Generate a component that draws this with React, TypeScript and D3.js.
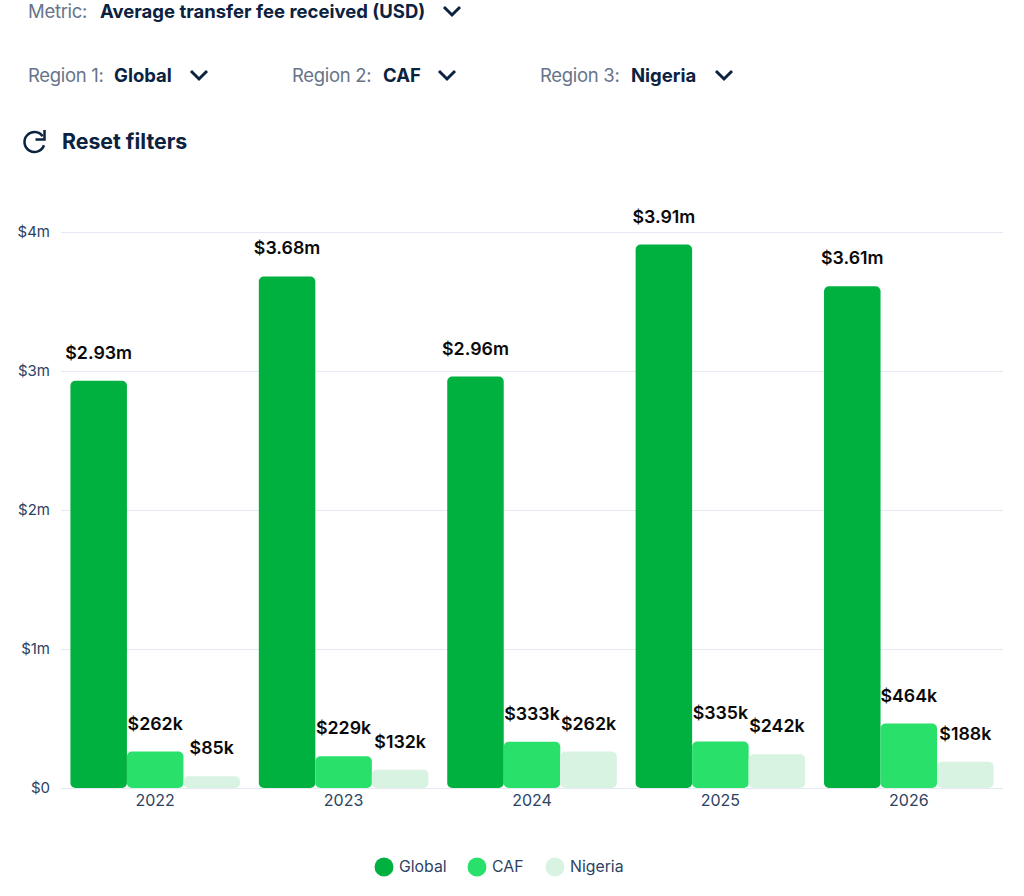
import React, { useEffect, useRef } from "react";
import * as d3 from "d3";

const years = ["2022", "2023", "2024", "2025", "2026"];
const regions = ["Global", "CAF", "Nigeria"];
const globalFees = [2930000, 3680000, 2960000, 3910000, 3610000];
const cafFees = [262000, 229000, 333000, 335000, 464000];
const nigeriaFees = [85000, 132000, 262000, 242000, 188000];
const yTicks = [0, 1000000, 2000000, 3000000, 4000000];
const regionColors = ["#00b140", "#29e06b", "#d8f3e2"];

const WIDTH = 1024;
const HEIGHT = 896;
const FONT = "Inter, sans-serif";
const NAVY = "#0b2240";
const GREY = "#66748a";

const fmtLabel = (v: number) =>
  v >= 1000000 ? `$${(v / 1000000).toFixed(2)}m` : `$${Math.round(v / 1000)}k`;

const chevron = (x: number, y: number) => `M${x},${y} l8,8 l8,-8`;

export default function App() {
  const ref = useRef<SVGSVGElement>(null);

  useEffect(() => {
    if (!ref.current) return;
    const svg = d3.select(ref.current);
    svg.selectAll("*").remove();

    // filters above the chart
    const filters = [
      { label: "Metric:", value: "Average transfer fee received (USD)", x: 28, vx: 100, cx: 444, y: 18 },
      { label: "Region 1:", value: "Global", x: 28, vx: 114, cx: 191, y: 82 },
      { label: "Region 2:", value: "CAF", x: 292, vx: 383, cx: 439, y: 82 },
      { label: "Region 3:", value: "Nigeria", x: 540, vx: 631, cx: 716, y: 82 },
    ];
    filters.forEach((f) => {
      svg.append("text").attr("x", f.x).attr("y", f.y).attr("fill", GREY)
        .attr("font-family", FONT).attr("font-size", 18.5).attr("letter-spacing", -0.3).text(f.label);
      svg.append("text").attr("x", f.vx).attr("y", f.y).attr("fill", NAVY)
        .attr("font-family", FONT).attr("font-size", 18.5).attr("font-weight", 700).text(f.value);
      svg.append("path").attr("d", chevron(f.cx, f.y - 11)).attr("fill", "none")
        .attr("stroke", NAVY).attr("stroke-width", 3);
    });

    // reset
    const arc = d3.arc()({ innerRadius: 10, outerRadius: 10, startAngle: 1.9, endAngle: 2 * Math.PI + 0.95 });
    svg.append("path").attr("d", arc).attr("transform", "translate(34.5,142)")
      .attr("fill", "none").attr("stroke", NAVY).attr("stroke-width", 2.5);
    svg.append("path").attr("d", "M44.5,130 v9.5 h-9").attr("fill", "none")
      .attr("stroke", NAVY).attr("stroke-width", 2.5);
    svg.append("text").attr("x", 62).attr("y", 149).attr("fill", NAVY)
      .attr("font-family", FONT).attr("font-size", 21.3).attr("font-weight", 700).text("Reset filters");

    // scales
    const x = d3.scaleBand().domain(years).range([61, 1003]).paddingInner(0.1).paddingOuter(0.05);
    const x1 = d3.scaleBand().domain(regions).range([0, x.bandwidth()]);
    const y = d3.scaleLinear().domain([0, 4000000]).range([788, 232]);

    // y axis + grid
    const yAxis = d3.axisLeft(y).tickValues(yTicks).tickSize(-942).tickPadding(11)
      .tickFormat((d) => (+d === 0 ? "$0" : `$${+d / 1000000}m`));
    const yG = svg.append("g").attr("transform", "translate(61,0)").call(yAxis as any);
    yG.select(".domain").remove();
    yG.selectAll("line").attr("stroke", "#e6e9f2").attr("stroke-width", 1.2);
    yG.selectAll("text").attr("fill", "#2c4262").attr("font-family", FONT).attr("font-size", 15);

    // x axis
    const xAxis = d3.axisBottom(x).tickSize(0).tickPadding(7);
    const xG = svg.append("g").attr("transform", "translate(0,788)").call(xAxis as any);
    xG.select(".domain").remove();
    xG.selectAll("text").attr("fill", "#2c4262").attr("font-family", FONT).attr("font-size", 16);

    // bars
    const series = [globalFees, cafFees, nigeriaFees];
    regions.forEach((region, i) => {
      const g = svg.append("g").attr("fill", regionColors[i]);
      const vals = series[i];
      g.selectAll("rect").data(years).enter().append("rect")
        .attr("x", (d) => x(d)! + x1(region)!)
        .attr("y", (_, j) => y(vals[j]))
        .attr("width", x1.bandwidth())
        .attr("height", (_, j) => 788 - y(vals[j]))
        .attr("rx", 5);
      g.selectAll("text").data(years).enter().append("text")
        .attr("x", (d) => x(d)! + x1(region)! + x1.bandwidth() / 2)
        .attr("y", (_, j) => y(vals[j]) - 22)
        .attr("text-anchor", "middle")
        .attr("fill", "#0a0a0a")
        .attr("font-family", FONT).attr("font-size", 17.8).attr("font-weight", 600)
        .text((_, j) => fmtLabel(vals[j]));
    });

    // legend
    const legendX = [384, 477, 555];
    const legendTextX = [399, 492, 570];
    regions.forEach((region, i) => {
      svg.append("circle").attr("cx", legendX[i]).attr("cy", 867).attr("r", 9.5).attr("fill", regionColors[i]);
      svg.append("text").attr("x", legendTextX[i]).attr("y", 872).attr("fill", "#2c4262")
        .attr("font-family", FONT).attr("font-size", 15.8).text(region);
    });
  }, []);

  return <svg ref={ref} width={WIDTH} height={HEIGHT} style={{ position: "absolute", left: 0, top: 0 }} />;
}
